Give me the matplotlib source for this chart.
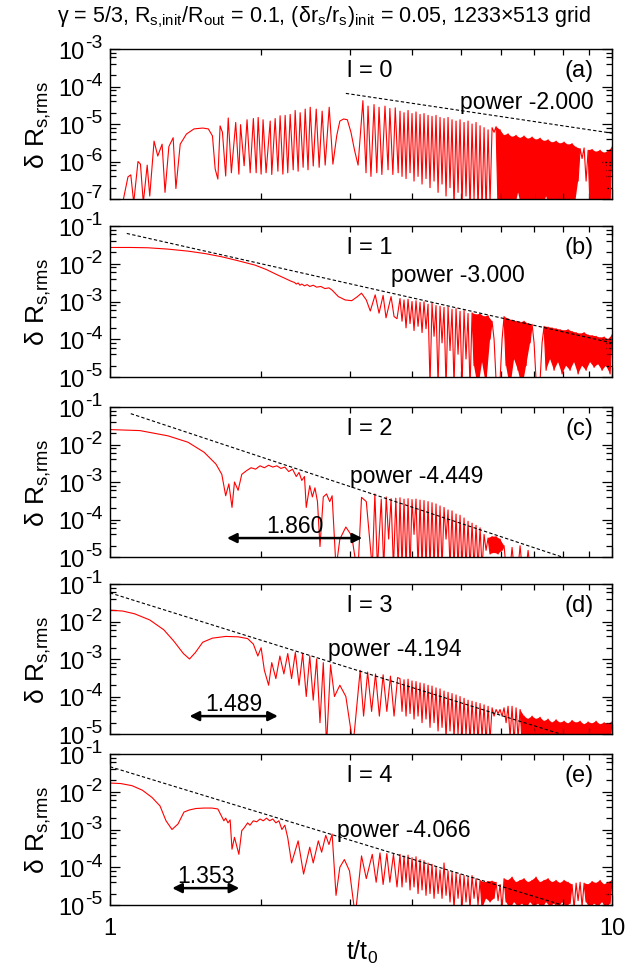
import matplotlib
matplotlib.use("Agg")
import matplotlib.pyplot as plt
from matplotlib.ticker import FixedLocator, LogLocator, NullFormatter

plt.rcParams['font.family'] = ['Liberation Sans', 'DejaVu Sans']
plt.rcParams['mathtext.fontset'] = 'custom'
plt.rcParams['mathtext.rm'] = 'Liberation Sans'
plt.rcParams['mathtext.it'] = 'Liberation Sans:italic'
plt.rcParams['mathtext.default'] = 'regular'

# shared sampling times for the dense late-time oscillation (peaks / troughs)
t_pk = [3.782, 3.852, 3.924, 3.996, 4.070, 4.146, 4.222, 4.301, 4.380, 4.461,
        4.544, 4.628, 4.714, 4.801, 4.890, 4.981, 5.073, 5.167, 5.263, 5.360,
        5.460, 5.561, 5.664, 5.769, 5.876, 5.984, 6.095, 6.208, 6.323, 6.440,
        6.560, 6.681, 6.805, 6.931, 7.059, 7.190, 7.323, 7.459, 7.597, 7.738,
        7.881, 8.027, 8.176, 8.327, 8.482, 8.639, 8.799, 8.962, 9.128, 9.297,
        9.469, 9.645, 9.823, 10.0]
t_tr = [3.817, 3.888, 3.960, 4.033, 4.108, 4.184, 4.261, 4.340, 4.421, 4.503,
        4.586, 4.671, 4.757, 4.845, 4.935, 5.026, 5.119, 5.214, 5.311, 5.409,
        5.510, 5.612, 5.716, 5.822, 5.930, 6.040, 6.152, 6.266, 6.382, 6.500,
        6.620, 6.743, 6.868, 6.995, 7.124, 7.256, 7.391, 7.528, 7.667, 7.809,
        7.954, 8.101, 8.251, 8.404, 8.560, 8.718, 8.880, 9.044, 9.212, 9.382,
        9.556, 9.733, 9.913]

# ---- l = 0 ----
t_a = [1.060, 1.086, 1.100, 1.115, 1.137, 1.150, 1.165, 1.186, 1.200, 1.224,
       1.245, 1.270, 1.287, 1.310, 1.336, 1.353, 1.380, 1.420, 1.470, 1.530,
       1.570, 1.600, 1.620, 1.640, 1.657, 1.675, 1.700, 1.720, 1.745, 1.780,
       1.806, 1.820, 1.850, 1.875, 1.902, 1.930, 1.955, 1.973, 2.000, 2.018,
       2.046, 2.085, 2.100, 2.133, 2.160, 2.182, 2.210, 2.233, 2.260, 2.285,
       2.317, 2.338, 2.370, 2.392, 2.425, 2.448, 2.480, 2.505, 2.540, 2.575,
       2.610, 2.646, 2.683, 2.733, 2.780, 2.830, 2.870, 2.920, 2.970, 3.020,
       3.070, 3.120, 3.190, 3.236, 3.266, 3.310, 3.357, 3.400, 3.435, 3.480,
       3.530, 3.580, 3.610, 3.660, 3.700, 3.750]
r_a = [8e-8, 3.9e-7, 4.4e-7, 8e-8, 1.0e-6, 8.5e-7, 8e-8, 8.0e-7, 1.2e-7, 3.5e-6,
       1.4e-6, 2.9e-6, 1.5e-7, 2.5e-6, 4.3e-6, 1.9e-7, 2.9e-6, 5.4e-6, 7.4e-6, 7.8e-6,
       7.4e-6, 4.8e-6, 6.3e-7, 3.4e-7, 8.9e-6, 6.0e-6, 4.1e-7, 1.45e-5, 5e-7, 1.1e-5,
       4.6e-7, 9.6e-6, 7.7e-7, 1.3e-5, 5e-7, 1.4e-5, 5e-7, 1.5e-5, 4.6e-7, 1.3e-5,
       5e-7, 1.2e-5, 4.5e-7, 1.4e-5, 5.5e-7, 1.66e-5, 4.6e-7, 1.7e-5, 5e-7, 1.8e-5,
       6e-7, 2.3e-5, 5.5e-7, 2.0e-5, 7e-7, 2.5e-5, 6e-7, 2.8e-5, 7.6e-7, 2.5e-5,
       7e-7, 2.2e-5, 8e-7, 2.8e-5, 8.5e-7, 5e-6, 1.2e-5, 1.36e-5, 1.3e-5, 6e-6,
       2e-6, 8e-7, 4.2e-5, 5e-7, 3e-5, 4e-7, 3.3e-5, 5e-7, 2.8e-5, 4.5e-7,
       3e-5, 6e-7, 2.6e-5, 4.5e-7, 2.7e-5, 5e-7]
pk_a = [2.2e-5, 2.0e-5, 2.3e-5, 1.9e-5, 2.1e-5, 1.8e-5, 1.9e-5, 1.7e-5, 1.6e-5, 1.7e-5,
        1.5e-5, 1.4e-5, 1.5e-5, 1.3e-5, 1.2e-5, 1.3e-5, 1.1e-5, 1.2e-5, 1.0e-5, 1.1e-5,
        9e-6, 8e-6, 7e-6, 8e-6, 8.5e-6, 7e-6, 5e-6, 5.5e-6, 4.5e-6, 5e-6,
        4.2e-6, 4.8e-6, 4.0e-6, 4.5e-6, 3.8e-6, 4.2e-6, 3.5e-6, 3.8e-6, 3.2e-6, 3.5e-6,
        3.0e-6, 3.3e-6, 2.8e-6, 3.0e-6, 2.4e-6, 2.2e-6, 2.3e-6, 2.0e-6, 2.1e-6, 1.8e-6,
        2.0e-6, 1.7e-6, 1.9e-6, 2.4e-6]
tr_a = [4e-7, 3.5e-7, 5e-7, 3e-7, 4e-7, 2.5e-7, 3.5e-7, 2e-7, 3e-7, 1.5e-7,
        2.5e-7, 1.2e-7, 2e-7, 6e-8, 1.5e-7, 6e-8, 1.2e-7, 5e-8, 1e-7, 5e-8,
        5e-8, 5e-8, 8e-8, 6e-6, 5e-8, 5e-8, 1e-7, 5e-8, 5e-8, 1.5e-7,
        5e-8, 5e-8, 1e-7, 5e-8, 5e-8, 5e-8, 1.2e-7, 5e-8, 5e-8, 5e-8,
        1e-7, 5e-8, 5e-8, 5e-8, 3e-7, 1.2e-6, 3e-7, 5e-8, 5e-8, 1e-7,
        5e-8, 5e-8, 8e-8]

# ---- l = 1 ----
t_b = [1.000, 1.100, 1.190, 1.300, 1.430, 1.550, 1.670, 1.800, 1.945, 2.050,
       2.160, 2.300, 2.330, 2.350, 2.370, 2.390, 2.410, 2.440, 2.470, 2.500,
       2.540, 2.580, 2.630, 2.680, 2.730, 2.770, 2.850, 2.940, 3.030, 3.100,
       3.170, 3.240, 3.300, 3.375, 3.435, 3.500, 3.547, 3.630, 3.680, 3.730]
r_b = [2.7e-2, 2.7e-2, 2.65e-2, 2.45e-2, 2.16e-2, 1.85e-2, 1.53e-2, 1.2e-2, 9.2e-3, 7e-3,
       5e-3, 3.4e-3, 3.2e-3, 2.9e-3, 3.1e-3, 2.7e-3, 2.9e-3, 2.6e-3, 2.8e-3, 2.5e-3,
       2.7e-3, 2.4e-3, 2.5e-3, 2.2e-3, 2.3e-3, 2.0e-3, 1.35e-3, 1.1e-3, 1.05e-3, 1.3e-3,
       1.66e-3, 1.1e-3, 5.6e-4, 1.5e-3, 4.9e-4, 1.45e-3, 3.7e-4, 1.35e-3, 4e-4, 3.5e-4]
pk_b = [1.2e-3, 1.1e-3, 1.15e-3, 1.0e-3, 1.05e-3, 9.5e-4, 9.8e-4, 8.5e-4, 9.0e-4, 7.8e-4,
        7.5e-4, 7.0e-4, 7.2e-4, 6.2e-4, 6.5e-4, 5.5e-4, 5.8e-4, 4.8e-4, 5.0e-4, 4.5e-4,
        4.7e-4, 4.0e-4, 4.2e-4, 3.0e-4, 8e-6, 8e-6, 4.0e-4, 3.5e-4, 3.2e-4, 3.0e-4,
        2.8e-4, 3.0e-4, 2.6e-4, 2.5e-4, 8e-6, 8e-6, 2.2e-4, 2.1e-4, 2.0e-4, 1.9e-4,
        1.8e-4, 1.7e-4, 1.8e-4, 1.6e-4, 1.5e-4, 1.4e-4, 1.5e-4, 1.3e-4, 1.25e-4, 1.2e-4,
        1.1e-4, 1.15e-4, 1.0e-4, 1.3e-4]
tr_b = [3.0e-4, 2.0e-4, 2.6e-4, 1.7e-4, 2.2e-4, 1.5e-4, 1.9e-4, 6e-6, 1.2e-4, 6e-6,
        8e-5, 5e-6, 5e-5, 6e-6, 4e-5, 5e-6, 3e-5, 5e-6, 2e-5, 5e-6,
        2.5e-5, 6e-6, 1e-4, 1e-4, 5e-6, 1e-4, 2e-5, 5e-6, 3e-5, 1.5e-5,
        5e-6, 2e-5, 8e-5, 8e-5, 5e-6, 8e-5, 1.5e-5, 3e-5, 1.5e-5, 2.5e-5,
        1.2e-5, 2e-5, 1.5e-5, 2.5e-5, 1.2e-5, 2e-5, 1.5e-5, 2.5e-5, 1.8e-5, 2.2e-5,
        1.5e-5, 2e-5, 1.2e-5]

# ---- l = 2 ----
t_c = [1.000, 1.147, 1.305, 1.430, 1.540, 1.626, 1.670, 1.700, 1.725, 1.750,
       1.770, 1.800, 1.830, 1.870, 1.910, 1.950, 1.990, 2.030, 2.070, 2.110,
       2.150, 2.190, 2.230, 2.270, 2.310, 2.350, 2.380, 2.410, 2.440, 2.460,
       2.500, 2.530, 2.560, 2.590, 2.620, 2.660, 2.700, 2.740, 2.770, 2.800,
       2.820, 2.870, 2.950, 3.030, 3.100, 3.120, 3.170, 3.240, 3.330, 3.370,
       3.410, 3.470, 3.510, 3.550, 3.590, 3.630, 3.670, 3.710, 3.750]
r_c = [2.5e-2, 2.35e-2, 1.7e-2, 1.15e-2, 6.2e-3, 3.0e-3, 1.6e-3, 4.3e-4, 8.9e-4, 2.1e-4,
       1.0e-3, 6e-4, 1.6e-3, 2.0e-3, 2.4e-3, 2.2e-3, 2.7e-3, 2.4e-3, 2.8e-3, 2.5e-3,
       2.7e-3, 2.3e-3, 2.5e-3, 1.9e-3, 2.2e-3, 1.4e-3, 1.8e-3, 1.1e-3, 1.4e-3, 2.1e-4,
       8e-4, 4e-4, 7e-4, 3e-4, 1.9e-5, 4e-4, 4.8e-4, 3e-4, 4.3e-4, 3e-5,
       5e-6, 3e-5, 6.3e-5, 3.7e-5, 5e-6, 5e-6, 3.9e-4, 3.0e-4, 5e-6, 4.8e-4,
       5e-6, 3.5e-4, 5e-6, 4.0e-4, 3e-5, 3.6e-4, 5e-6, 3.7e-4, 5e-6]
pk_c = [3.8e-4, 3.5e-4, 3.6e-4, 3.4e-4, 3.5e-4, 3.3e-4, 3.2e-4, 3.0e-4, 2.8e-4, 2.6e-4,
        2.3e-4, 2.1e-4, 1.8e-4, 1.7e-4, 1.4e-4, 1.3e-4, 1.1e-4, 9e-5, 8e-5, 7e-5,
        6e-5, 4e-5, 3.2e-5, 3.5e-5, 3.5e-5, 3.0e-5, 2.0e-5, 5e-6, 1.8e-5, 5e-6,
        2e-5, 5e-6, 1.5e-5, 5e-6, 5e-6, 5e-6, 5e-6, 5e-6, 5e-6, 5e-6,
        5e-6, 5e-6, 5e-6, 5e-6, 5e-6, 5e-6, 5e-6, 5e-6, 5e-6, 5e-6,
        5e-6, 5e-6, 5e-6, 5e-6]
tr_c = [5e-6, 5e-6, 5e-6, 4e-5, 5e-6, 5e-6, 5e-6, 5e-6, 5e-6, 5e-6,
        5e-6, 3e-5, 5e-6, 5e-6, 5e-6, 5e-6, 5e-6, 5e-6, 5e-6, 5e-6,
        5e-6, 1.5e-5, 1.2e-5, 1.3e-5, 1.2e-5, 1.5e-5, 5e-6, 5e-6, 5e-6, 5e-6,
        5e-6, 5e-6, 5e-6, 5e-6, 5e-6, 5e-6, 5e-6, 5e-6, 5e-6, 5e-6,
        5e-6, 5e-6, 5e-6, 5e-6, 5e-6, 5e-6, 5e-6, 5e-6, 5e-6, 5e-6,
        5e-6, 5e-6, 5e-6]

# ---- l = 3 ----
t_d = [1.000, 1.060, 1.120, 1.200, 1.280, 1.340, 1.400, 1.440, 1.480, 1.530,
       1.600, 1.700, 1.800, 1.880, 1.930, 1.970, 2.000, 2.030, 2.070, 2.100,
       2.140, 2.180, 2.220, 2.260, 2.300, 2.340, 2.380, 2.420, 2.460, 2.500,
       2.540, 2.580, 2.620, 2.660, 2.700, 2.750, 2.800, 2.870, 2.950, 3.050,
       3.150, 3.200, 3.260, 3.320, 3.380, 3.440, 3.500, 3.560, 3.620, 3.680,
       3.740]
r_d = [2.0e-2, 1.9e-2, 1.6e-2, 1.1e-2, 6e-3, 3e-3, 1.4e-3, 1.0e-3, 1.5e-3, 2.8e-3,
       3.6e-3, 4.0e-3, 3.9e-3, 3.5e-3, 2.5e-3, 1.2e-3, 2.0e-3, 5e-4, 2e-4, 8e-4,
       3e-4, 1.2e-3, 4e-4, 1.4e-3, 3e-4, 1.5e-3, 2e-4, 1.4e-3, 1e-4, 1.2e-3,
       8e-5, 1.0e-3, 2e-5, 8e-4, 5e-6, 7e-4, 1e-4, 2e-4, 1e-4, 5e-6,
       5e-4, 3e-5, 4.5e-4, 4e-5, 4e-4, 3e-5, 3.8e-4, 4e-5, 3.5e-4, 3e-5,
       3.2e-4]
pk_d = [3.0e-4, 2.8e-4, 2.9e-4, 2.6e-4, 2.5e-4, 2.3e-4, 2.2e-4, 2.0e-4, 1.9e-4, 1.7e-4,
        1.6e-4, 1.4e-4, 1.3e-4, 1.2e-4, 1.1e-4, 1.0e-4, 9e-5, 8e-5, 7.5e-5, 7e-5,
        6.5e-5, 6e-5, 5.5e-5, 5e-5, 4.5e-5, 4.5e-5, 5e-5, 5.5e-5, 5.5e-5, 5e-5,
        4.5e-5, 3e-5, 2.5e-5, 3e-5, 2.5e-5, 2.8e-5, 2.2e-5, 2.5e-5, 2.0e-5, 2.4e-5,
        2.0e-5, 2.2e-5, 1.9e-5, 2.3e-5, 2.0e-5, 2.2e-5, 1.8e-5, 2.1e-5, 1.9e-5, 2.2e-5,
        1.8e-5, 2.0e-5, 1.9e-5, 2.1e-5]
tr_d = [4e-5, 3e-5, 3.5e-5, 2.5e-5, 3e-5, 2e-5, 2.5e-5, 1.5e-5, 2e-5, 1.2e-5,
        1.5e-5, 8e-6, 1.2e-5, 8e-6, 1e-5, 7e-6, 9e-6, 6e-6, 8e-6, 6e-6,
        8e-6, 6e-6, 7e-6, 3e-5, 3.5e-5, 3e-5, 2e-5, 8e-6, 6e-6, 8e-6,
        6e-6, 7e-6, 6e-6, 8e-6, 6e-6, 7e-6, 6e-6, 8e-6, 6e-6, 7e-6,
        6e-6, 8e-6, 6e-6, 7e-6, 6e-6, 8e-6, 6e-6, 7e-6, 6e-6, 8e-6,
        6e-6, 7e-6, 6e-6]

# ---- l = 4 ----
t_e = [1.000, 1.050, 1.106, 1.160, 1.212, 1.258, 1.293, 1.329, 1.366, 1.404,
       1.440, 1.483, 1.540, 1.596, 1.640, 1.686, 1.700, 1.718, 1.735, 1.750,
       1.770, 1.806, 1.830, 1.850, 1.880, 1.900, 1.930, 1.960, 1.990, 2.020,
       2.050, 2.080, 2.110, 2.140, 2.170, 2.200, 2.230, 2.260, 2.300, 2.370,
       2.430, 2.500, 2.540, 2.600, 2.640, 2.690, 2.730, 2.770, 2.820, 2.870,
       2.930, 3.000, 3.080, 3.170, 3.240, 3.330, 3.390, 3.450, 3.500, 3.560,
       3.610, 3.670, 3.730]
r_e = [1.7e-2, 1.65e-2, 1.45e-2, 1.1e-2, 7.1e-3, 4.2e-3, 1.7e-3, 1.0e-3, 1.4e-3, 2.9e-3,
       3.3e-3, 3.6e-3, 3.7e-3, 3.7e-3, 3.5e-3, 1.7e-3, 2.0e-3, 1.5e-3, 1.8e-3, 3e-4,
       6.2e-4, 2.2e-4, 9.3e-4, 1.1e-3, 1.5e-3, 1.3e-3, 1.7e-3, 1.6e-3, 1.9e-3, 1.7e-3,
       2.0e-3, 1.7e-3, 1.9e-3, 1.5e-3, 1.7e-3, 1.0e-3, 1.3e-3, 6e-4, 1.3e-4, 5e-4,
       6.6e-5, 3.4e-4, 1.3e-4, 5e-4, 2.5e-4, 7e-4, 4e-4, 7.6e-4, 1.8e-5, 1.0e-4,
       1.6e-4, 8e-5, 5e-6, 2e-4, 5e-5, 2.2e-4, 4e-5, 2.4e-4, 3.5e-5, 2.3e-4,
       4e-5, 2.2e-4, 3e-5]
pk_e = [2.2e-4, 2.0e-4, 2.1e-4, 1.8e-4, 1.9e-4, 1.6e-4, 1.5e-4, 1.3e-4, 1.2e-4, 1.0e-4,
        8.5e-5, 1.3e-4, 8e-5, 7.5e-5, 7e-5, 6.5e-5, 6e-5, 5.5e-5, 6e-5, 5e-5,
        4.5e-5, 4e-5, 4.2e-5, 4.3e-5, 4.0e-5, 3.5e-5, 5e-5, 4.5e-5, 5.5e-5, 4e-5,
        4.5e-5, 5e-5, 4e-5, 4.5e-5, 5.5e-5, 4e-5, 4.5e-5, 5e-5, 4e-5, 4.5e-5,
        3.8e-5, 4.5e-5, 4e-5, 3.5e-5, 3.8e-5, 4e-5, 3.8e-5, 3.5e-5, 4.2e-5, 3.8e-5,
        4.5e-5, 3.5e-5, 4e-5, 4.5e-5]
tr_e = [3e-5, 4e-5, 2.5e-5, 3e-5, 2e-5, 2.5e-5, 1.8e-5, 2e-5, 1.5e-5, 2e-5,
        1.5e-5, 1.8e-5, 1.2e-5, 8e-6, 1.5e-5, 8e-6, 1.2e-5, 8e-6, 1.5e-5, 1e-5,
        8e-6, 1.5e-5, 1.2e-5, 1.5e-5, 1.3e-5, 8e-6, 1.2e-5, 8e-6, 1.2e-5, 9e-6,
        1.1e-5, 8e-6, 1.2e-5, 9e-6, 1.1e-5, 8e-6, 1.2e-5, 9e-6, 1.1e-5, 8e-6,
        1.2e-5, 9e-6, 1.1e-5, 8e-6, 1.3e-5, 9e-6, 1.2e-5, 8e-6, 1.1e-5, 9e-6,
        1.2e-5, 8e-6, 1.1e-5]

# index ranges (into t_pk) where the oscillation is so dense it reads as a solid band
solid_a = [(24, 45), (47, 53)]
solid_b = [(18, 23), (26, 33), (36, 53)]
solid_c = [(22, 26)]
solid_d = [(30, 53)]
solid_e = [(20, 24), (26, 43), (46, 53)]

# power-law fits: start time, amplitude at t=1, exponent
fit_t0 = [2.95, 1.08, 1.10, 1.0, 1.0]
fit_amp = [5.7e-4, 0.08, 0.1015, 0.058, 0.046]
fit_pow = [-2.000, -3.000, -4.449, -4.194, -4.066]

# period arrows: start, end, height, label
arr_t0 = [None, None, 1.71, 1.44, 1.33]
arr_t1 = [None, None, 3.18, 2.16, 1.81]
arr_y = [None, None, 3.2e-5, 3.0e-5, 2.8e-5]
arr_lab = [None, None, '1.860', '1.489', '1.353']

ylims = [(1e-7, 1e-3), (1e-5, 1e-1), (1e-5, 1e-1), (1e-5, 1e-1), (1e-5, 1e-1)]
letters = ['(a)', '(b)', '(c)', '(d)', '(e)']
ells = ['l = 0', 'l = 1', 'l = 2', 'l = 3', 'l = 4']
ptext_xy = [(0.83, 0.647), (0.693, 0.68), (0.61, 0.54), (0.568, 0.567), (0.585, 0.503)]
panels_px = [(50, 200), (227, 378), (408, 558), (585, 735), (755, 906)]


def merge(tp, vp, tt, vt):
    t, v = [], []
    for i in range(len(tp)):
        t.append(tp[i])
        v.append(vp[i])
        if i < len(tt):
            t.append(tt[i])
            v.append(vt[i])
    return t, v


series = [(t_a, r_a, pk_a, tr_a, solid_a), (t_b, r_b, pk_b, tr_b, solid_b),
          (t_c, r_c, pk_c, tr_c, solid_c), (t_d, r_d, pk_d, tr_d, solid_d),
          (t_e, r_e, pk_e, tr_e, solid_e)]

W, H = 628, 970
fig = plt.figure(figsize=(W / 100, H / 100), dpi=100)

for i, (top, bot) in enumerate(panels_px):
    ax = fig.add_axes([110 / W, 1 - bot / H, 502 / W, (bot - top) / H])
    te, re_, pk, tr, solid = series[i]
    tm, vm = merge(t_pk, pk, t_tr, tr)
    ax.plot(te + tm, re_ + vm, color='red', lw=0.8)
    for k0, k1 in solid:
        px = t_pk[k0:k1 + 1] + t_tr[k0:k1][::-1]
        py = pk[k0:k1 + 1] + tr[k0:k1][::-1]
        ax.fill(px, py, color='red', lw=0)

    # dashed power law
    x0 = fit_t0[i]
    ax.plot([x0, 10], [fit_amp[i] * x0 ** fit_pow[i], fit_amp[i] * 10 ** fit_pow[i]],
            color='black', lw=0.8, ls=(0, (3, 2)))

    ax.set_xscale('log')
    ax.set_yscale('log')
    ax.set_xlim(1, 10)
    lo, hi = ylims[i]
    ax.set_ylim(lo, hi)

    ax.xaxis.set_major_locator(FixedLocator([1, 10]))
    ax.xaxis.set_minor_locator(FixedLocator([2, 3, 4, 5, 6, 7, 8, 9]))
    ax.xaxis.set_minor_formatter(NullFormatter())
    ax.yaxis.set_major_locator(LogLocator(base=10, numticks=20))
    ax.yaxis.set_minor_locator(LogLocator(base=10, subs=(2, 4, 6, 8), numticks=20))
    ax.yaxis.set_minor_formatter(NullFormatter())
    ax.set_yticklabels([])
    ax.tick_params(which='both', direction='in', top=True, right=True, width=0.9)
    ax.tick_params(which='major', length=7)
    ax.tick_params(which='minor', length=4)
    for s in ax.spines.values():
        s.set_linewidth(1.0)
    if i < 4:
        ax.set_xticklabels([])
    else:
        ax.set_xticklabels(['1', '10'])
        ax.tick_params(axis='x', pad=9, labelsize=17)

    # decade labels written as gnuplot does: 10 with a large exponent
    e = 0
    while 10.0 ** e > lo * 1.01:
        e -= 1
    for ex in range(e, e + 5):
        v = 10.0 ** ex
        ax.annotate('10', xy=(0, v), xycoords=('axes fraction', 'data'),
                    xytext=(-26, -3), textcoords='offset pixels',
                    ha='right', va='center', fontsize=17, annotation_clip=False)
        ax.annotate('%d' % ex, xy=(0, v), xycoords=('axes fraction', 'data'),
                    xytext=(-25, 6), textcoords='offset pixels',
                    ha='left', va='center', fontsize=14, annotation_clip=False)

    ax.text(0.518, 0.86, ells[i], transform=ax.transAxes, ha='center', va='center', fontsize=17)
    ax.text(0.963, 0.86, letters[i], transform=ax.transAxes, ha='right', va='center', fontsize=17)
    ax.text(ptext_xy[i][0], ptext_xy[i][1], 'power %.3f' % fit_pow[i], transform=ax.transAxes,
            ha='center', va='center', fontsize=16.5)

    if arr_t0[i] is not None:
        ax.annotate('', xy=(arr_t1[i], arr_y[i]), xytext=(arr_t0[i], arr_y[i]),
                    arrowprops=dict(arrowstyle='<|-|>', color='black', lw=1.8,
                                    mutation_scale=14, shrinkA=0, shrinkB=0))
        tm_ = (arr_t0[i] * arr_t1[i]) ** 0.5
        ax.text(tm_, arr_y[i] * 2.2, arr_lab[i], ha='center', va='center', fontsize=16.5)

    fig.text(38 / W, 1 - (top + bot) / 2 / H, r'$\delta$ R$_{s{,}rms}$', rotation=90,
             ha='center', va='center', fontsize=19)

fig.text(324 / W, 1 - 17 / H,
         r'$\gamma$ = 5/3, R$_{s{,}init}$/R$_{out}$ = 0.1, ($\delta$r$_s$/r$_s$)$_{init}$ = 0.05, 1233×513 grid',
         ha='center', va='center', fontsize=15.5)
fig.text(362 / W, 1 - 952 / H, 't/t$_0$', ha='center', va='center', fontsize=18)

fig.savefig('out.png', dpi=100)
